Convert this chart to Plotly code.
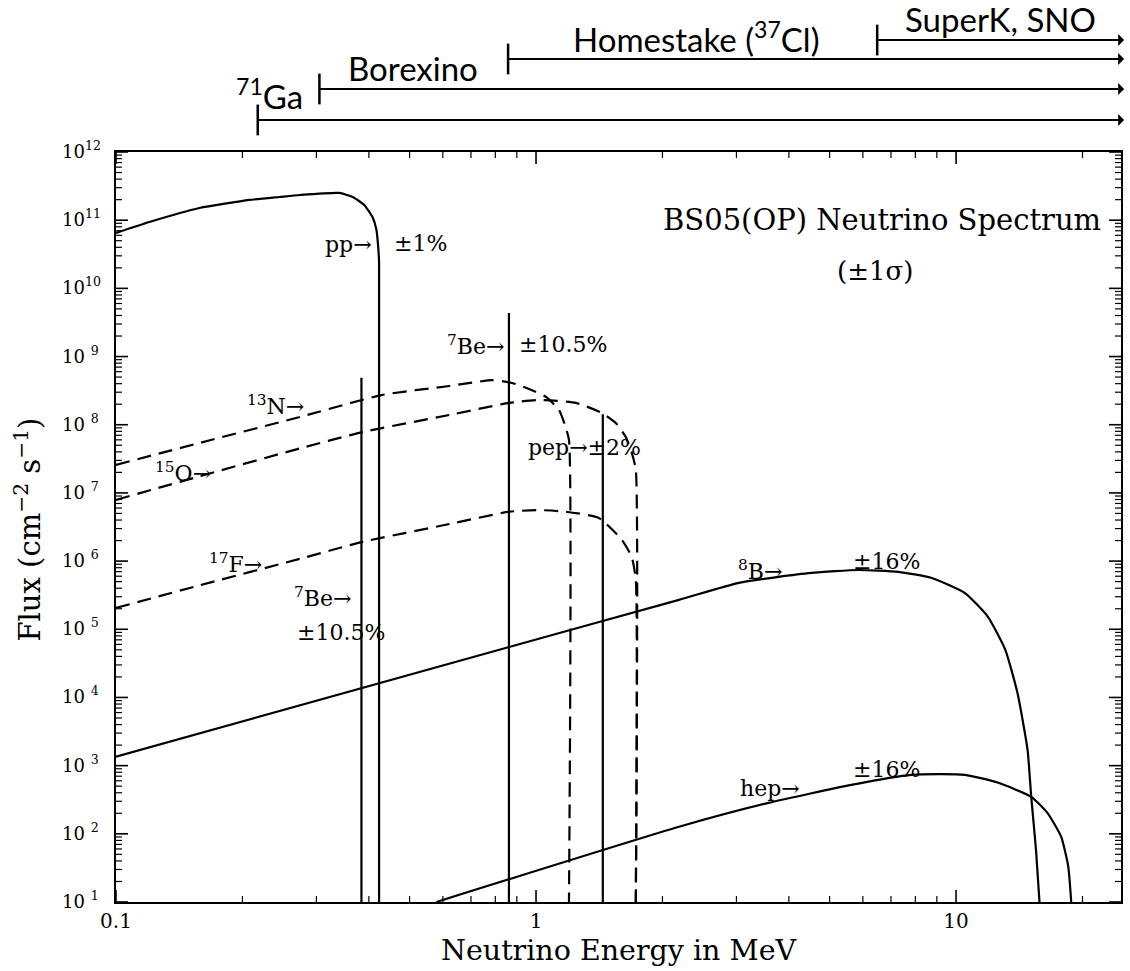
import math
import plotly.graph_objects as go

# ---------------- spectra: energy (MeV) and flux ----------------
pp_energy = [0.100, 0.120, 0.158, 0.208, 0.245, 0.274, 0.340, 0.366, 0.390, 0.408, 0.417, 0.421, 0.423, 0.423]
pp_flux = [6.5e10, 9.4e10, 1.51e11, 1.98e11, 2.19e11, 2.34e11, 2.51e11, 2.19e11, 1.67e11, 1.11e11, 7.2e10, 4.0e10, 2.4e10, 10]

n13_energy = [0.100, 0.158, 0.274, 0.431, 0.622, 0.786, 0.877, 0.962, 1.056, 1.134, 1.172, 1.198, 1.198]
n13_flux = [2.58e7, 5.4e7, 1.3e8, 2.74e8, 3.7e8, 4.5e8, 4.1e8, 3.35e8, 2.56e8, 1.65e8, 9.9e7, 6.0e7, 10]

o15_energy = [0.100, 0.158, 0.274, 0.386, 0.622, 0.863, 1.017, 1.245, 1.435, 1.549, 1.636, 1.690, 1.728, 1.728]
o15_flux = [7.9e6, 1.75e7, 4.5e7, 7.8e7, 1.39e8, 2.09e8, 2.31e8, 2.09e8, 1.49e8, 1.06e8, 6.6e7, 3.9e7, 2.2e7, 10]

f17_energy = [0.100, 0.158, 0.274, 0.386, 0.622, 0.863, 1.017, 1.178, 1.411, 1.601, 1.690, 1.728, 1.728]
f17_flux = [2.06e5, 4.4e5, 1.08e6, 1.91e6, 3.5e6, 5.3e6, 5.6e6, 5.3e6, 4.3e6, 2.05e6, 1.15e6, 5.3e5, 10]

b8_energy = [0.100, 0.863, 2.19, 3.04, 4.52, 5.85, 7.28, 8.72, 10.5, 11.9, 13.1, 14.0, 14.8, 15.1, 15.5, 15.8]
b8_flux = [1.35e3, 5.5e4, 2.7e5, 4.8e5, 6.7e5, 7.4e5, 6.95e5, 5.7e5, 3.4e5, 1.53e5, 5.0e4, 1.17e4, 1.7e3, 349, 58, 10]

hep_energy = [0.579, 2.19, 3.58, 5.63, 7.82, 10.5, 12.6, 15.1, 16.5, 17.8, 18.5, 18.8]
hep_flux = [10, 127, 285, 523, 733, 733, 560, 349, 203, 90, 33, 10]

# monochromatic lines: energy (MeV), flux (cm^-2 s^-1)
line_energy = [0.384, 0.862, 1.442]
line_flux = [4.9e8, 4.34e9, 1.42e8]

# detector energy thresholds (MeV) and labels
det_names = ["<sup>71</sup>Ga", "Borexino", "Homestake (<sup>37</sup>Cl)", "SuperK, SNO"]
det_threshold = [0.2175, 0.305, 0.858, 6.49]

# axis ticks
x_major = [0.1, 1, 10]
x_major_text = ["0.1", "1", "10"]
y_exponents = list(range(1, 13))

X_MAX = 24.7
X_RANGE = [-1, math.log10(X_MAX)]
Y_RANGE = [1, 12]
MARGIN = dict(l=116, r=7, t=152, b=69)
FIG_W, FIG_H = 1130, 971
PLOT_W = FIG_W - MARGIN["l"] - MARGIN["r"]
PLOT_H = FIG_H - MARGIN["t"] - MARGIN["b"]
SERIF = "DejaVu Serif"
SANS = "Lato"

fig = go.Figure()


def add_curve(x, y, dashed=False):
    fig.add_trace(go.Scatter(
        x=x, y=y, mode="lines", showlegend=False, hoverinfo="skip",
        line=dict(color="black", width=2.2, dash="14px,8px" if dashed else "solid",
                  shape="spline", smoothing=0.5),
    ))


add_curve(pp_energy, pp_flux)
add_curve(n13_energy, n13_flux, dashed=True)
add_curve(o15_energy, o15_flux, dashed=True)
add_curve(f17_energy, f17_flux, dashed=True)
add_curve(b8_energy, b8_flux)
add_curve(hep_energy, hep_flux)
for e, f in zip(line_energy, line_flux):
    fig.add_trace(go.Scatter(
        x=[e, e], y=[10, f], mode="lines", showlegend=False, hoverinfo="skip",
        line=dict(color="black", width=2.2),
    ))

# ---------------- axes ----------------
x_minor = [m * 10 ** k for k in (-1, 0, 1) for m in range(2, 10) if m * 10 ** k < X_MAX]
y_minor = [m * 10 ** k for k in range(1, 12) for m in range(2, 10)]

fig.update_layout(
    xaxis=dict(
        type="log", range=X_RANGE, tickmode="array",
        tickvals=x_major, ticktext=x_major_text, ticks="",
        showline=True, linewidth=2, linecolor="black", mirror=True,
        showgrid=False, zeroline=False,
        tickfont=dict(family=SERIF, size=20, color="black"),
    ),
    yaxis=dict(
        type="log", range=Y_RANGE, tickmode="array",
        tickvals=[10 ** k for k in y_exponents], showticklabels=False, ticks="",
        showline=True, linewidth=2, linecolor="black", mirror=True,
        showgrid=False, zeroline=False,
    ),
)

shapes = []

# inward tick marks on all four sides of the frame
MAJOR_LEN, MINOR_LEN = 12, 6
for vals, tlen, tw in ((x_major, MAJOR_LEN, 1.6), (x_minor, MINOR_LEN, 1.2)):
    for v in vals:
        for base, sgn in ((0, 1), (1, -1)):
            shapes.append(dict(type="line", xref="x", yref="paper", x0=v, x1=v,
                               y0=base, y1=base + sgn * tlen / PLOT_H,
                               line=dict(color="black", width=tw)))
y_major = [10 ** k for k in y_exponents]
for vals, tlen, tw in ((y_major, MAJOR_LEN, 1.6), (y_minor, MINOR_LEN, 1.2)):
    for v in vals:
        for base, sgn in ((0, 1), (1, -1)):
            shapes.append(dict(type="line", xref="paper", yref="y", y0=v, y1=v,
                               x0=base, x1=base + sgn * tlen / PLOT_W,
                               line=dict(color="black", width=tw)))

annotations = []

# y tick labels 10^k
for k in y_exponents:
    gap = "" if k >= 10 else "\u00a0"
    annotations.append(dict(
        text=f"10{gap}<sup>{k}</sup>", x=-56 / PLOT_W, y=k, xref="paper", yref="y",
        xanchor="left", yanchor="middle", showarrow=False, yshift=2,
        font=dict(family=SERIF, size=18, color="black"),
    ))


def label(text, lx, ly, anchor="left", size=22):
    # lx, ly are log10(energy), log10(flux)
    annotations.append(dict(
        text=text, x=lx, y=ly, xref="x", yref="y", showarrow=False,
        xanchor=anchor, yanchor="middle",
        font=dict(family=SERIF, size=size, color="black"),
    ))


label("pp→", -0.385, 10.64, anchor="right")
label("±1%", -0.344, 10.66)
label("<sup>7</sup>Be→", -0.071, 9.17, anchor="right")
label("±10.5%", -0.045, 9.17)
label("<sup>13</sup>N→", -0.694, 8.29)
label("<sup>15</sup>O→", -0.912, 7.31)
label("<sup>17</sup>F→", -0.784, 5.97)
label("<sup>7</sup>Be→", -0.580, 5.47)
label("±10.5%", -0.575, 4.96)
label("pep→±2%", -0.024, 7.66)
label("<sup>8</sup>B→", 0.477, 5.87)
label("±16%", 0.751, 5.99)
label("hep→", 0.482, 2.67)
label("±16%", 0.751, 2.94)

annotations.append(dict(
    text="BS05(OP) Neutrino Spectrum", x=0.982, y=0.909, xref="paper", yref="paper",
    xanchor="right", yanchor="middle", showarrow=False,
    font=dict(family=SERIF, size=29, color="black"),
))
annotations.append(dict(
    text="(±1σ)", x=0.755, y=0.842, xref="paper", yref="paper",
    xanchor="center", yanchor="middle", showarrow=False,
    font=dict(family=SERIF, size=26, color="black"),
))

# axis titles
annotations.append(dict(
    text="Neutrino Energy in MeV", x=0.5, y=-0.064, xref="paper", yref="paper",
    xanchor="center", yanchor="middle", showarrow=False,
    font=dict(family=SERIF, size=28.5, color="black"),
))
annotations.append(dict(
    text="Flux (cm<sup>−2</sup> s<sup>−1</sup>)", x=-0.088, y=0.496, xref="paper", yref="paper",
    xanchor="center", yanchor="middle", showarrow=False, textangle=-90,
    font=dict(family=SERIF, size=29, color="black"),
))

# detector sensitivity ranges above the plot
det_row_y = [1.0427, 1.084, 1.124, 1.1493]
det_tick_half = 0.0205
det_label_pos = [(0.153, 1.0773), (0.296, 1.1120), (0.577, 1.1533), (0.8798, 1.1773)]
arrow_end = math.log10(X_MAX) + 0.011
for name, thr, ry, (tx, ty) in zip(det_names, det_threshold, det_row_y, det_label_pos):
    shapes.append(dict(type="line", xref="x", yref="paper", x0=thr, x1=thr,
                       y0=ry - det_tick_half, y1=ry + det_tick_half,
                       line=dict(color="black", width=2.5)))
    annotations.append(dict(
        text="", x=math.log10(thr), y=ry, xref="x", yref="paper",
        ax=arrow_end, ay=0, axref="x", ayref="pixel",
        showarrow=True, arrowside="start", arrowhead=2, arrowsize=1.1,
        arrowwidth=2, arrowcolor="black", standoff=0, startstandoff=0,
    ))
    annotations.append(dict(
        text=name, x=tx, y=ty, xref="paper", yref="paper", showarrow=False,
        xanchor="center", yanchor="middle",
        font=dict(family=SANS, size=33, color="black"),
    ))

fig.update_layout(
    width=FIG_W, height=FIG_H,
    margin=MARGIN,
    paper_bgcolor="white", plot_bgcolor="white",
    annotations=annotations, shapes=shapes,
    showlegend=False,
)

fig.write_html("out.html")
